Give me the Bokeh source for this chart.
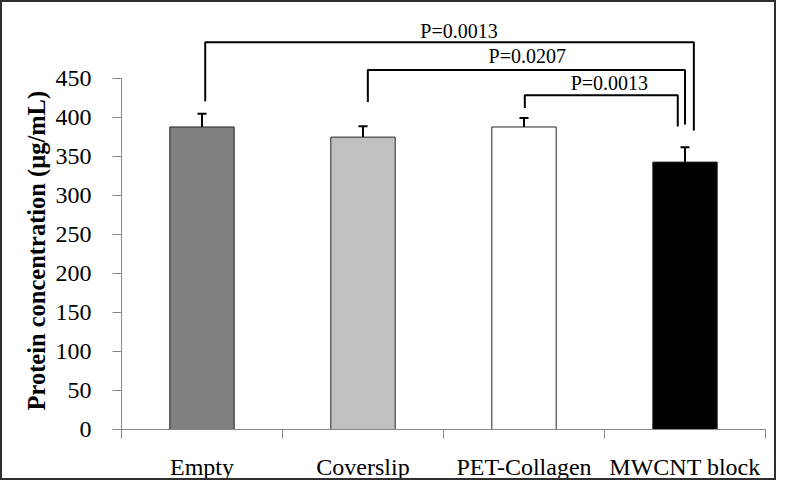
from bokeh.plotting import figure
from bokeh.models import Range1d, FixedTicker, Whisker, TeeHead, ColumnDataSource, Title
from bokeh.core.properties import value
from bokeh.embed import file_html
from bokeh.resources import INLINE

# ---- data ----
categories = ["Empty", "Coverslip", "PET-Collagen", "MWCNT block"]
means = [387.5, 374.5, 387.5, 342.5]
errors = [17, 14, 11.5, 19]
bar_colors = ["#808080", "#c0c0c0", "#ffffff", "#000000"]

y_ticks = [0, 50, 100, 150, 200, 250, 300, 350, 400, 450]
y_title = "Protein concentration (μg/mL)"

# significance brackets (x in category units, y in data units)
brk_x_left = [0.52, 1.53, 2.505]
brk_x_right = [3.555, 3.5, 3.455]
brk_y = [496, 460.5, 428]
brk_left_bottom = [420.6, 419.4, 411.8]
brk_right_bottom = [383, 390.8, 388]
p_labels = ["P=0.0013", "P=0.0207", "P=0.0013"]
p_label_x = [2.096, 2.52, 3.03]
p_label_y = [510, 478.2, 443.3]

FONT = "Liberation Serif"

x_pos = [i + 0.5 for i in range(len(categories))]
p = figure(width=776, height=480, output_backend="svg", toolbar_location=None,
           x_range=Range1d(0, 4), y_range=Range1d(0, 529),
           min_border_left=119, min_border_right=13, min_border_top=14, min_border_bottom=46)
p.styles = {"border": "2px solid #303030"}
p.outline_line_color = None
p.xgrid.visible = False
p.ygrid.visible = False
p.background_fill_color = "white"
p.border_fill_color = "white"

src = ColumnDataSource(dict(x=x_pos, top=means, color=bar_colors,
                            upper=[m + e for m, e in zip(means, errors)]))
p.vbar(x="x", top="top", bottom=0, width=0.4, fill_color="color",
       line_color="#262626", line_width=1, source=src)

wh = Whisker(base="x", lower="top", upper="upper", source=src, dimension="height",
             line_color="black", line_width=2,
             upper_head=TeeHead(size=9, line_color="black", line_width=2),
             lower_head=None)
p.add_layout(wh)

xs, ys = [], []
for xl, xr, yb, ll, rl in zip(brk_x_left, brk_x_right, brk_y, brk_left_bottom, brk_right_bottom):
    xs.append([xl, xl, xr, xr])
    ys.append([ll, yb, yb, rl])
p.multi_line(xs=xs, ys=ys, line_color="black", line_width=2)

p.text(x=p_label_x, y=p_label_y, text=p_labels, text_font=value(FONT), text_font_size="20px",
       text_align="center", text_baseline="middle", text_color="black")

# axes
p.yaxis.ticker = FixedTicker(ticks=y_ticks)
p.yaxis.bounds = (0, 450)
p.yaxis.axis_line_color = "#868686"
p.yaxis.major_tick_line_color = "#868686"
p.yaxis.major_tick_out = 9
p.yaxis.major_tick_in = 0
p.yaxis.minor_tick_line_color = None
p.yaxis.major_label_text_font = FONT
p.yaxis.major_label_text_font_size = "24px"
p.yaxis.major_label_text_color = "black"
p.yaxis.major_label_standoff = 21

title = Title(text=y_title, align="left", offset=19, standoff=6,
              text_font=FONT, text_font_size="24.5px", text_font_style="bold",
              text_color="black")
p.add_layout(title, "left")

p.xaxis.ticker = FixedTicker(ticks=x_pos, minor_ticks=[0, 1, 2, 3, 4])
p.xaxis.major_label_overrides = {xp: c for xp, c in zip(x_pos, categories)}
p.xaxis.axis_line_color = "#868686"
p.xaxis.major_tick_line_color = None
p.xaxis.major_tick_out = 0
p.xaxis.major_tick_in = 0
p.xaxis.minor_tick_line_color = "#868686"
p.xaxis.minor_tick_out = 9
p.xaxis.minor_tick_in = 0
p.xaxis.major_label_text_font = FONT
p.xaxis.major_label_text_font_size = "24px"
p.xaxis.major_label_text_color = "black"
p.xaxis.major_label_standoff = 15

open("out.html", "w").write(file_html(p, INLINE))
